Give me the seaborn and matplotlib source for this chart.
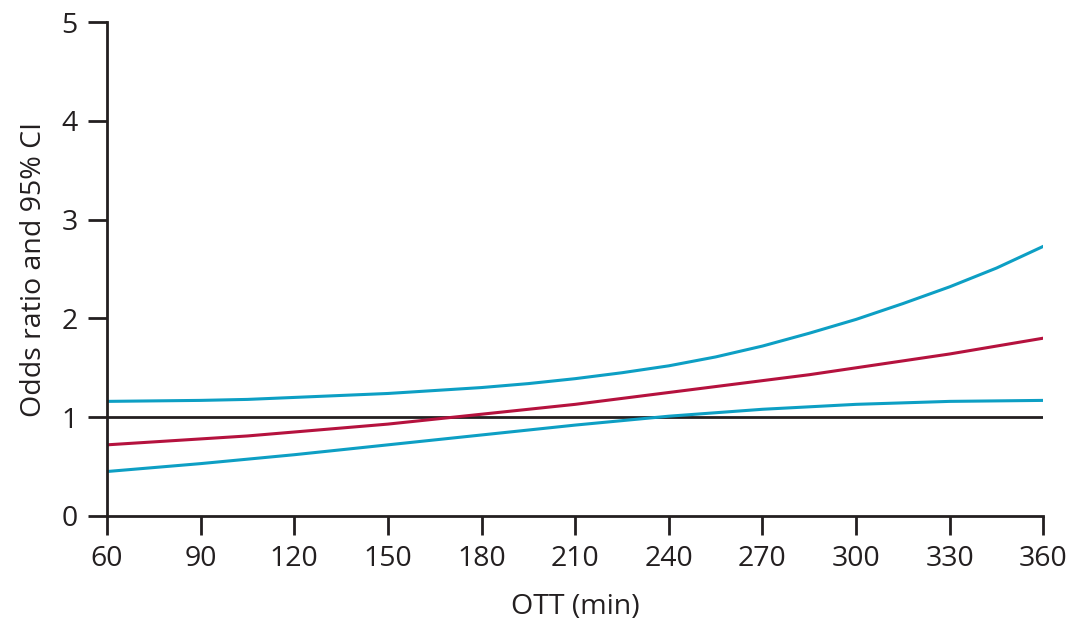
import numpy as np
import pandas as pd
import matplotlib
matplotlib.use('Agg')
import matplotlib.pyplot as plt
import seaborn as sns

# onset-to-treatment time (min), read every 15 min off the figure
ott = [60, 75, 90, 105, 120, 135, 150, 165, 180, 195, 210,
       225, 240, 255, 270, 285, 300, 315, 330, 345, 360]
odds_ratio = [0.72, 0.75, 0.78, 0.81, 0.85, 0.89, 0.93, 0.98, 1.03, 1.08, 1.13,
              1.19, 1.25, 1.31, 1.37, 1.43, 1.50, 1.57, 1.64, 1.72, 1.80]
ci_upper = [1.16, 1.165, 1.17, 1.18, 1.20, 1.22, 1.24, 1.27, 1.30, 1.34, 1.39,
            1.45, 1.52, 1.61, 1.72, 1.85, 1.99, 2.15, 2.32, 2.51, 2.73]
ci_lower = [0.45, 0.49, 0.53, 0.575, 0.62, 0.67, 0.72, 0.77, 0.82, 0.87, 0.92,
            0.965, 1.01, 1.045, 1.08, 1.105, 1.13, 1.145, 1.16, 1.165, 1.17]

df = pd.DataFrame({'ott': ott, 'or': odds_ratio, 'hi': ci_upper, 'lo': ci_lower})

sns.set_style('ticks')
plt.rcParams['font.family'] = ['Open Sans', 'DejaVu Sans']

red = '#b5123e'
blue = '#0d9fc4'
ink = '#231f20'

fig, ax = plt.subplots(figsize=(10.74, 6.3), dpi=100)
fig.subplots_adjust(left=0.0996, right=0.9715, bottom=0.181, top=0.965)

ax.axhline(1, xmin=0, xmax=1, color=ink, lw=2)
sns.lineplot(data=df, x='ott', y='hi', color=blue, lw=2.2, ax=ax)
sns.lineplot(data=df, x='ott', y='lo', color=blue, lw=2.2, ax=ax)
sns.lineplot(data=df, x='ott', y='or', color=red, lw=2.2, ax=ax)

ax.set_xlim(60, 360)
ax.set_ylim(0, 5)
ax.set_xticks(range(60, 361, 30))
ax.set_yticks(range(0, 6))
sns.despine(ax=ax)
for s in ['left', 'bottom']:
    ax.spines[s].set_color(ink)
    ax.spines[s].set_linewidth(2)
ax.tick_params(axis='both', length=14, width=2, color=ink, labelsize=20.5,
               labelcolor=ink, pad=7)
ax.set_xlabel('OTT (min)', fontsize=20.5, color=ink, labelpad=14)
ax.set_ylabel('Odds ratio and 95% CI', fontsize=20.5, color=ink, labelpad=10)

fig.savefig('out.png', dpi=100)
